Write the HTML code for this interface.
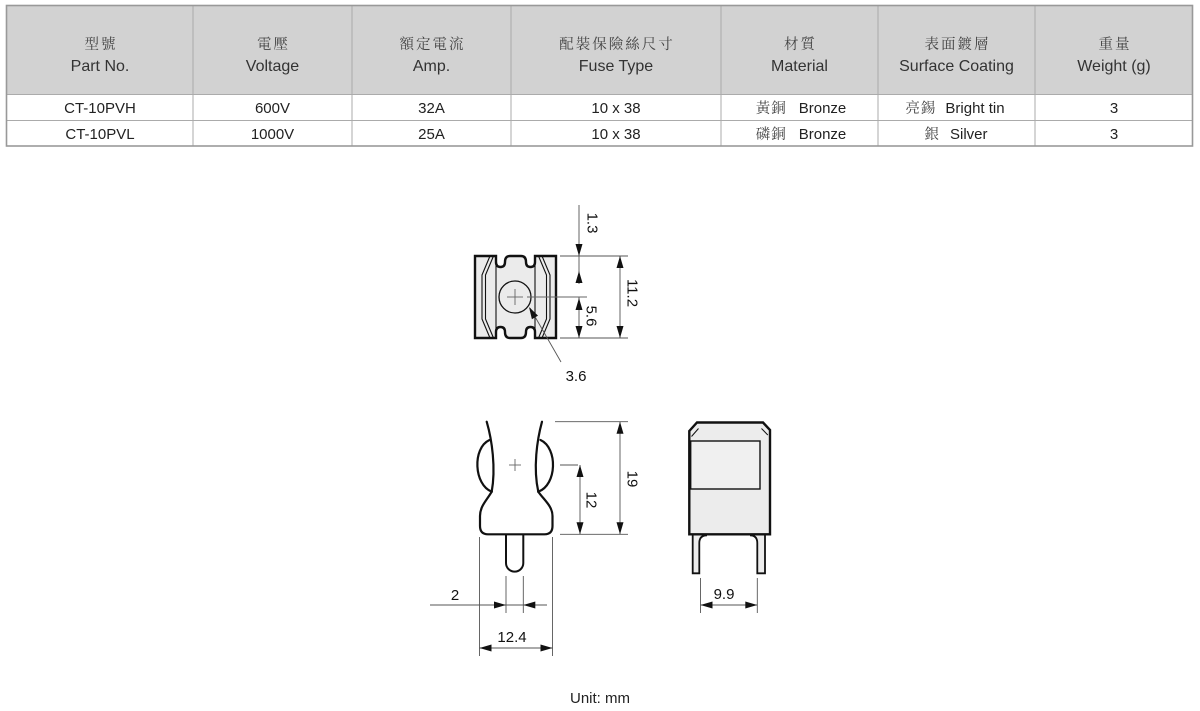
<!DOCTYPE html>
<html>
<head>
<meta charset="utf-8">
<style>
  html,body{margin:0;padding:0;background:#fff;}
  svg{display:block;}
  .h{font-family:"Liberation Sans",sans-serif;font-size:16px;fill:#333;}
  .c{font-family:"Noto Serif CJK SC","Noto Serif CJK TC",serif;font-size:14.5px;fill:#444;letter-spacing:2px;}
  .r{font-family:"Liberation Sans",sans-serif;font-size:15px;fill:#222;}
  .d{font-family:"Liberation Sans",sans-serif;font-size:15px;fill:#111;}
  .dl{stroke:#555;stroke-width:0.9;fill:none;}
  .ol{stroke:#111;stroke-width:2.2;fill:none;stroke-linejoin:round;stroke-linecap:round;}
  .ar{fill:#111;stroke:none;}
</style>
</head>
<body>
<svg width="1200" height="711" viewBox="0 0 1200 711" xmlns="http://www.w3.org/2000/svg">
  <!-- TABLE -->
  <rect x="6" y="5" width="1187" height="89" fill="#d2d2d2"/>
  <g stroke="#ababab" stroke-width="1">
    <line x1="193" y1="5" x2="193" y2="146"/>
    <line x1="352" y1="5" x2="352" y2="146"/>
    <line x1="511" y1="5" x2="511" y2="146"/>
    <line x1="721" y1="5" x2="721" y2="146"/>
    <line x1="878" y1="5" x2="878" y2="146"/>
    <line x1="1035" y1="5" x2="1035" y2="146"/>
    <line x1="6" y1="94.5" x2="1193" y2="94.5"/>
    <line x1="6" y1="120.5" x2="1193" y2="120.5"/>
  </g>
  <rect x="6.5" y="5.5" width="1186" height="140.5" fill="none" stroke="#999" stroke-width="1.6"/>

  <g text-anchor="middle">
    <text class="c" x="101" y="49">型號</text>
    <text class="c" x="273.5" y="49">電壓</text>
    <text class="c" x="432.5" y="49">額定電流</text>
    <text class="c" x="617" y="49">配裝保險絲尺寸</text>
    <text class="c" x="800.5" y="49">材質</text>
    <text class="c" x="957.5" y="49">表面鍍層</text>
    <text class="c" x="1115" y="49">重量</text>

    <text class="h" x="100" y="71">Part No.</text>
    <text class="h" x="272.5" y="71">Voltage</text>
    <text class="h" x="431.5" y="71">Amp.</text>
    <text class="h" x="616" y="71">Fuse Type</text>
    <text class="h" x="799.5" y="71">Material</text>
    <text class="h" x="956.5" y="71">Surface Coating</text>
    <text class="h" x="1114" y="71">Weight (g)</text>

    <text class="r" x="100" y="113">CT-10PVH</text>
    <text class="r" x="272.5" y="113">600V</text>
    <text class="r" x="431.5" y="113">32A</text>
    <text class="r" x="616" y="113">10 x 38</text>
    <text class="r" x="801" y="113"><tspan class="c" style="letter-spacing:1px">黃銅</tspan><tspan dx="12">Bronze</tspan></text>
    <text class="r" x="955" y="113"><tspan class="c" style="letter-spacing:1px">亮錫</tspan><tspan dx="9">Bright tin</tspan></text>
    <text class="r" x="1114" y="113">3</text>

    <text class="r" x="100" y="139">CT-10PVL</text>
    <text class="r" x="272.5" y="139">1000V</text>
    <text class="r" x="431.5" y="139">25A</text>
    <text class="r" x="616" y="139">10 x 38</text>
    <text class="r" x="801" y="139"><tspan class="c" style="letter-spacing:1px">磷銅</tspan><tspan dx="12">Bronze</tspan></text>
    <text class="r" x="956" y="139"><tspan class="c" style="letter-spacing:1px">銀</tspan><tspan dx="10">Silver</tspan></text>
    <text class="r" x="1114" y="139">3</text>
  </g>

  <!-- TOP DRAWING -->
  <path d="M475,256 H496 V262 Q496,267 500.5,267 Q505,267 505,262 Q505,256 510,256 H521 Q526,256 526,262 Q526,267 530.5,267 Q535,267 535,262 V256 H556 V338 H535 V332 Q535,327 530.5,327 Q526,327 526,332 Q526,338 521,338 H510 Q505,338 505,332 Q505,327 500.5,327 Q496,327 496,332 V338 H475 Z" fill="#ebebeb" stroke="#111" stroke-width="2.4" stroke-linejoin="miter"/>
  <g stroke="#111" stroke-width="1.1" fill="none">
    <line x1="496" y1="263" x2="496" y2="331"/>
    <line x1="535" y1="263" x2="535" y2="331"/>
    <polyline points="490,256 482,275 482,319 490,338"/>
    <polyline points="493.5,256 485.5,275 485.5,319 493.5,338"/>
    <polyline points="538.5,256 546.5,275 546.5,319 538.5,338"/>
    <polyline points="542,256 550,275 550,319 542,338"/>
  </g>
  <circle cx="515" cy="297" r="16" fill="none" stroke="#111" stroke-width="1.3"/>
  <g stroke="#666" stroke-width="0.9">
    <line x1="507" y1="297" x2="523" y2="297"/>
    <line x1="515" y1="289" x2="515" y2="305"/>
    <line x1="527" y1="297" x2="587" y2="297"/>
  </g>
  <!-- dims top -->
  <g class="dl">
    <line x1="560" y1="256" x2="628" y2="256"/>
    <line x1="560" y1="338" x2="628" y2="338"/>
    <line x1="579" y1="205" x2="579" y2="284"/>
    <line x1="579" y1="297" x2="579" y2="338"/>
    <line x1="620" y1="256" x2="620" y2="338"/>
    <line x1="561" y1="362" x2="530" y2="308"/>
  </g>
  <g class="ar">
    <polygon points="575.5,244 582.5,244 579,256"/>
    <polygon points="575.5,283 582.5,283 579,271"/>
    <polygon points="575.5,310 582.5,310 579,298"/>
    <polygon points="575.5,326 582.5,326 579,338"/>
    <polygon points="616.5,268 623.5,268 620,256"/>
    <polygon points="616.5,326 623.5,326 620,338"/>
    <polygon points="529,307 531.9,319.2 538,315.6"/>
  </g>
  <text class="d" text-anchor="middle" dominant-baseline="central" transform="translate(592,223) rotate(90)">1.3</text>
  <text class="d" text-anchor="middle" dominant-baseline="central" transform="translate(591,316) rotate(90)">5.6</text>
  <text class="d" text-anchor="middle" dominant-baseline="central" transform="translate(632,293) rotate(90)">11.2</text>
  <text class="d" text-anchor="middle" x="576" y="381">3.6</text>

  <!-- BOTTOM LEFT DRAWING -->
  <g stroke="#666" stroke-width="0.9">
    <line x1="509" y1="465" x2="521" y2="465"/>
    <line x1="515" y1="459" x2="515" y2="471"/>
  </g>
  <path d="M506,534.3 V563 A8.65,8.65 0 0 0 523.3,563 V534.3" fill="#fff" stroke="#111" stroke-width="2"/>
  <g class="ol">
    <path d="M486.7,421.7 C492,440 496,468 491.7,491.7"/>
    <path d="M489.5,440 C472,448 474,485 491.7,491.7"/>
    <path d="M491.7,491.7 C487,500 480,506 480,516 V526 Q480,534.3 488,534.3 H544.5 Q552.5,534.3 552.5,526 V516 C552.5,506 544,500 538.3,491.7"/>
    <path d="M542,421.7 C537,440 533,468 538.3,491.7"/>
    <path d="M540.5,440 C558,448 557,485 538.3,491.7"/>
  </g>
  <g class="dl">
    <line x1="555" y1="421.7" x2="628" y2="421.7"/>
    <line x1="560" y1="534.3" x2="628" y2="534.3"/>
    <line x1="620" y1="421.7" x2="620" y2="534.3"/>
    <line x1="560" y1="465" x2="578" y2="465"/>
    <line x1="580" y1="465" x2="580" y2="534.3"/>
    <line x1="506" y1="576" x2="506" y2="613"/>
    <line x1="523.3" y1="576" x2="523.3" y2="613"/>
    <line x1="430" y1="605" x2="547" y2="605"/>
    <line x1="479.5" y1="537" x2="479.5" y2="656"/>
    <line x1="552.5" y1="537" x2="552.5" y2="656"/>
    <line x1="479.5" y1="648" x2="552.5" y2="648"/>
  </g>
  <g class="ar">
    <polygon points="616.5,433.7 623.5,433.7 620,421.7"/>
    <polygon points="616.5,522.3 623.5,522.3 620,534.3"/>
    <polygon points="576.5,477 583.5,477 580,465"/>
    <polygon points="576.5,522.3 583.5,522.3 580,534.3"/>
    <polygon points="494,601.5 494,608.5 506,605"/>
    <polygon points="535.3,601.5 535.3,608.5 523.3,605"/>
    <polygon points="491.5,644.5 491.5,651.5 479.5,648"/>
    <polygon points="540.5,644.5 540.5,651.5 552.5,648"/>
  </g>
  <text class="d" text-anchor="middle" dominant-baseline="central" transform="translate(632,479) rotate(90)">19</text>
  <text class="d" text-anchor="middle" dominant-baseline="central" transform="translate(591,500) rotate(90)">12</text>
  <text class="d" text-anchor="middle" x="455" y="600">2</text>
  <text class="d" text-anchor="middle" x="512" y="642">12.4</text>

  <!-- BOTTOM RIGHT DRAWING -->
  <path d="M692.7,535 V573.3 H699.3 V543 Q699.3,535.3 707,535.3" fill="#ececec" stroke="#111" stroke-width="1.8"/>
  <path d="M765,535 V573.3 H757.3 V543 Q757.3,535.3 750,535.3" fill="#ececec" stroke="#111" stroke-width="1.8"/>
  <path d="M689.3,431 L697,422.5 H763 L770,430 V534.3 H689.3 Z" fill="#ececec" stroke="#111" stroke-width="2.4" stroke-linejoin="miter"/>
  <g stroke="#111" stroke-width="1" fill="none">
    <line x1="691.5" y1="436.5" x2="698.5" y2="428.5"/>
    <line x1="761.5" y1="428.5" x2="767.8" y2="435"/>
  </g>
  <rect x="690.7" y="441" width="69.3" height="48" fill="#f0f0f0" stroke="#111" stroke-width="1.4"/>
  <g class="dl">
    <line x1="700.5" y1="578" x2="700.5" y2="613"/>
    <line x1="757.3" y1="578" x2="757.3" y2="613"/>
    <line x1="700.5" y1="605" x2="757.3" y2="605"/>
  </g>
  <g class="ar">
    <polygon points="712.5,601.5 712.5,608.5 700.5,605"/>
    <polygon points="745.3,601.5 745.3,608.5 757.3,605"/>
  </g>
  <text class="d" text-anchor="middle" x="724" y="599">9.9</text>

  <text class="d" text-anchor="middle" x="600" y="703" style="fill:#222">Unit: mm</text>
</svg>
</body>
</html>
